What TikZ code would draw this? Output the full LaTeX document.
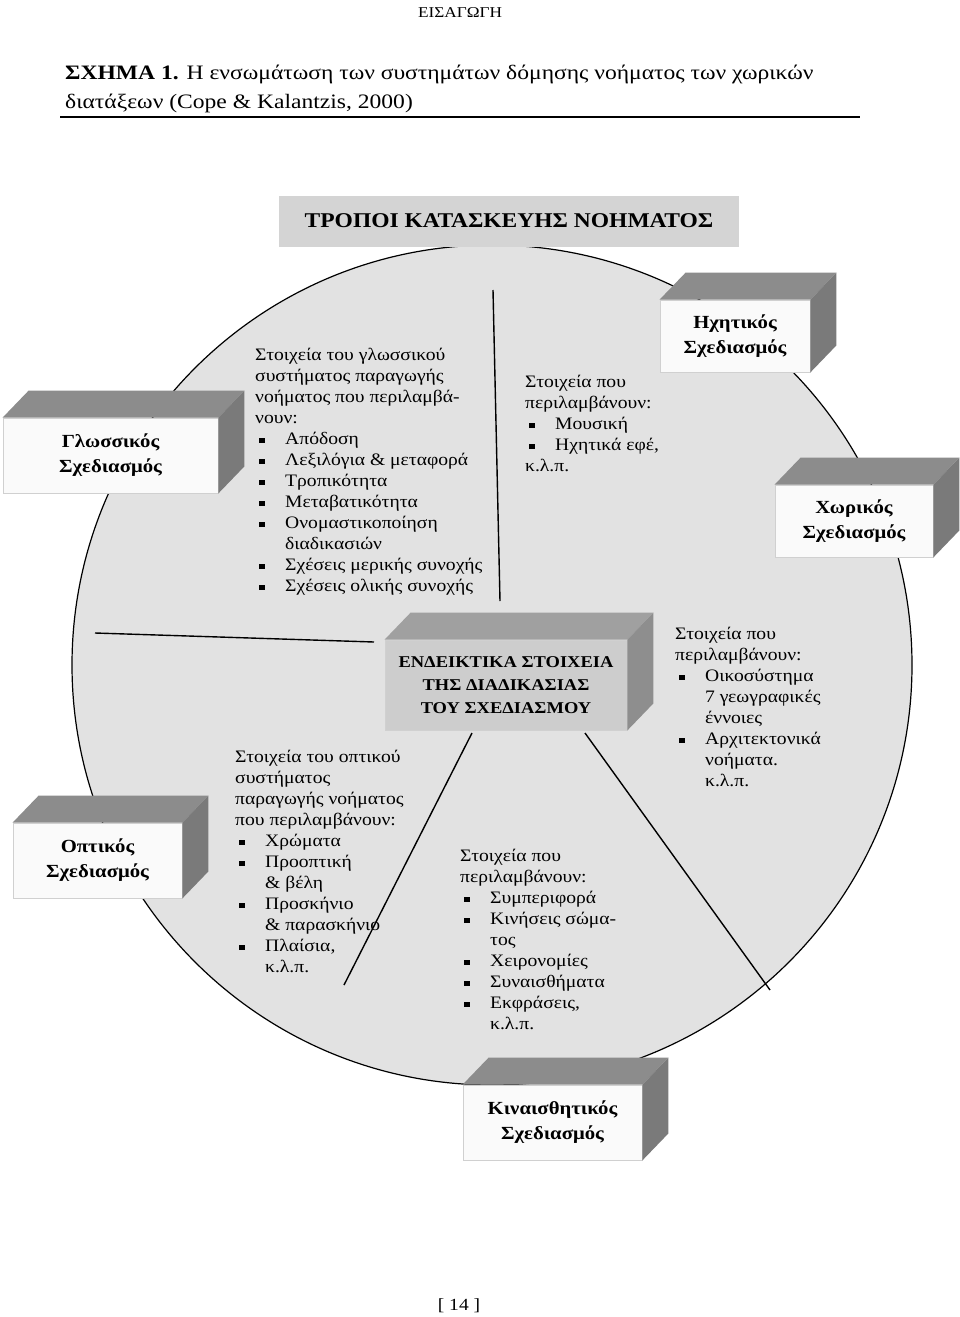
\documentclass[tikz,border=0pt]{standalone}
\usepackage{fontspec}
\setmainfont{Liberation Serif}
\newfontfamily\bodyfont[FakeStretch=1.12]{Liberation Serif}
\newfontfamily\titlefont[FakeStretch=1.15]{Liberation Serif}
\definecolor{circfill}{HTML}{E2E2E2}
\definecolor{topface}{HTML}{8C8C8C}
\definecolor{sideface}{HTML}{7A7A7A}
\definecolor{frontface}{HTML}{FAFAFA}
\definecolor{frontedge}{HTML}{D0D0D0}
\definecolor{ctop}{HTML}{A0A0A0}
\definecolor{cside}{HTML}{8E8E8E}
\definecolor{cfront}{HTML}{CDCDCD}
\definecolor{hdrfill}{HTML}{D4D4D4}
\newcommand\bx{\makebox[30pt][l]{\hspace{4pt}\rule[1pt]{5.5pt}{5.5pt}}}
\newcommand\ind{\hspace*{30pt}}
\begin{document}
\begin{tikzpicture}[x=1pt,y=-1pt,
  txt/.style={anchor=base west, align=left, inner sep=0pt, font=\bodyfont\fontsize{17.5}{21}\selectfont},
  cube/.style={draw=frontedge, line width=0.8pt, fill=frontface, align=center, inner sep=0pt,
     font=\bodyfont\bfseries\fontsize{18.5}{25}\selectfont},
  spoke/.style={line width=1.4pt, black}]
\useasboundingbox (0,0) rectangle (960,1317);
\fill[white] (0,0) rectangle (960,1317);

% page header and title
\node[anchor=base, inner sep=0pt, font=\titlefont\fontsize{15}{17}\selectfont] (hdr) at (460,17) {ΕΙΣΑΓΩΓΗ};
\node[anchor=base west, align=left, inner sep=0pt, font=\titlefont\fontsize{20.5}{29}\selectfont] (title) at (65,108)
  {\textbf{ΣΧΗΜΑ 1.} Η ενσωμάτωση των συστημάτων δόμησης νοήματος των χωρικών\\διατάξεων (Cope \& Kalantzis, 2000)};
\coordinate (ruleL) at (60,117);
\coordinate (ruleR) at (860,117);
\draw[line width=2pt] (ruleL) -- (ruleR);

% big circle
\node[circle, draw=black, line width=1.2pt, fill=circfill, minimum size=840pt, inner sep=0pt] (disc) at (492,665) {};

% header box
\node[fill=hdrfill, minimum width=460pt, minimum height=51pt, inner sep=0pt,
  font=\bodyfont\bfseries\fontsize{21}{25}\selectfont] (head) at (509,221) {ΤΡΟΠΟΙ ΚΑΤΑΣΚΕΥΗΣ ΝΟΗΜΑΤΟΣ};

% spokes
\coordinate (sTopA) at (493,290);  \coordinate (sTopB) at (500,601);
\coordinate (sLeftA) at (95,633);  \coordinate (sLeftB) at (374,642);
\coordinate (sBLA) at (472,733);   \coordinate (sBLB) at (344,985);
\coordinate (sBRA) at (585,733);   \coordinate (sBRB) at (770,990);
\draw[spoke] (sTopA) -- (sTopB);
\draw[spoke] (sLeftA) -- (sLeftB);
\draw[spoke] (sBLA) -- (sBLB);
\draw[spoke] (sBRA) -- (sBRB);

% cube boxes
\node[cube, minimum width=215pt, minimum height=75pt] (glos) at (110.5,455.5) {Γλωσσικός\\Σχεδιασμός};
\node[cube, minimum width=169pt, minimum height=75pt] (opt) at (97.5,860.5) {Οπτικός\\Σχεδιασμός};
\node[cube, minimum width=150pt, minimum height=72pt] (ichi) at (735,336) {Ηχητικός\\Σχεδιασμός};
\node[cube, minimum width=158pt, minimum height=72pt] (chor) at (854,521) {Χωρικός\\Σχεδιασμός};
\node[cube, minimum width=179pt, minimum height=75pt] (kin) at (552.5,1122.5) {Κιναισθητικός\\Σχεδιασμός};
\foreach \n in {glos,opt,ichi,chor,kin}{
  \fill[topface] (\n.north west) -- ++(26,-27) -- ([shift={(26,-27)}]\n.north east) -- (\n.north east) -- cycle;
  \fill[sideface] (\n.north east) -- ++(26,-27) -- ([shift={(26,-27)}]\n.south east) -- (\n.south east) -- cycle;
}

% centre box
\node[draw=frontedge, line width=0.8pt, fill=cfront, minimum width=242pt, minimum height=90pt, inner sep=0pt,
  align=center, font=\bodyfont\bfseries\fontsize{16.5}{23}\selectfont] (mid) at (506,685)
  {ΕΝΔΕΙΚΤΙΚΑ ΣΤΟΙΧΕΙΑ\\ΤΗΣ ΔΙΑΔΙΚΑΣΙΑΣ\\ΤΟΥ ΣΧΕΔΙΑΣΜΟΥ};
\fill[ctop] (mid.north west) -- ++(26,-27) -- ([shift={(26,-27)}]mid.north east) -- (mid.north east) -- cycle;
\fill[cside] (mid.north east) -- ++(26,-27) -- ([shift={(26,-27)}]mid.south east) -- (mid.south east) -- cycle;

% sector texts (base anchor = baseline of last line)
\node[txt] (gtext) at (255,591) {Στοιχεία του γλωσσικού\\συστήματος παραγωγής\\νοήματος που περιλαμβά-\\νουν:\\
  \bx Απόδοση\\\bx Λεξιλόγια \& μεταφορά\\\bx Τροπικότητα\\\bx Μεταβατικότητα\\\bx Ονομαστικοποίηση\\
  \ind διαδικασιών\\\bx Σχέσεις μερικής συνοχής\\\bx Σχέσεις ολικής συνοχής};
\node[txt] (itext) at (525,471) {Στοιχεία που\\περιλαμβάνουν:\\\bx Μουσική\\\bx Ηχητικά εφέ,\\κ.λ.π.};
\node[txt] (ctext) at (675,786) {Στοιχεία που\\περιλαμβάνουν:\\\bx Οικοσύστημα\\\ind 7 γεωγραφικές\\\ind έννοιες\\
  \bx Αρχιτεκτονικά\\\ind νοήματα.\\\ind κ.λ.π.};
\node[txt] (otext) at (235,972) {Στοιχεία του οπτικού\\συστήματος\\παραγωγής νοήματος\\που περιλαμβάνουν:\\
  \bx Χρώματα\\\bx Προοπτική\\\ind \& βέλη\\\bx Προσκήνιο\\\ind \& παρασκήνιο\\\bx Πλαίσια,\\\ind κ.λ.π.};
\node[txt] (ktext) at (460,1029) {Στοιχεία που\\περιλαμβάνουν:\\\bx Συμπεριφορά\\\bx Κινήσεις σώμα-\\\ind τος\\
  \bx Χειρονομίες\\\bx Συναισθήματα\\\bx Εκφράσεις,\\\ind κ.λ.π.};

% page number
\node[anchor=base, inner sep=0pt, font=\titlefont\fontsize{17}{19}\selectfont] (pnum) at (459,1310) {[ 14 ]};
\end{tikzpicture}
\end{document}
